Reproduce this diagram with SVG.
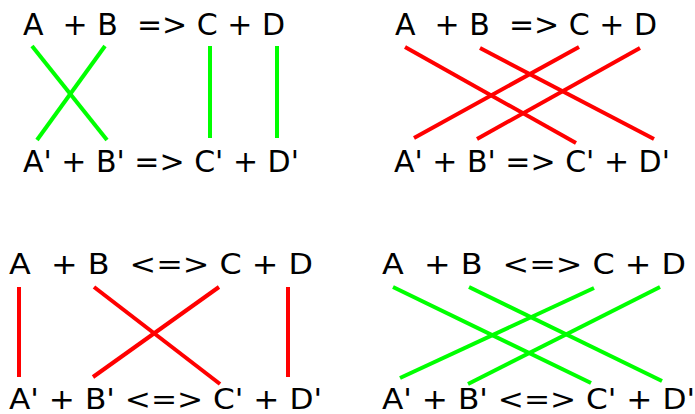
<svg xmlns="http://www.w3.org/2000/svg" width="695" height="414" viewBox="0 0 695 414">
<style>
  text { font-family: "DejaVu Sans", sans-serif; fill: #000; white-space: pre; }
  .t { font-size: 30px; }
  .b { font-size: 29px; }
  .g line { stroke: #00ff00; stroke-width: 4; }
  .r line { stroke: #ff0000; stroke-width: 4; }
</style>
<rect width="695" height="414" fill="#fff"/>
<g id="panel-tl">
  <text class="t" x="23" y="35">A  + B  =&gt; C + D</text>
  <text class="t" x="23" y="172">A' + B' =&gt; C' + D'</text>
</g>
<g id="panel-tr">
  <text class="t" x="395" y="35">A  + B  =&gt; C + D</text>
  <text class="t" x="394" y="172">A' + B' =&gt; C' + D'</text>
</g>
<g id="panel-bl">
  <text class="b" x="9" y="274" textLength="304" lengthAdjust="spacingAndGlyphs">A  + B  &lt;=&gt; C + D</text>
  <text class="b" x="9" y="409" textLength="313" lengthAdjust="spacingAndGlyphs">A' + B' &lt;=&gt; C' + D'</text>
</g>
<g id="panel-br">
  <text class="b" x="382" y="274" textLength="304" lengthAdjust="spacingAndGlyphs">A  + B  &lt;=&gt; C + D</text>
  <text class="b" x="382" y="409" textLength="313" lengthAdjust="spacingAndGlyphs">A' + B' &lt;=&gt; C' + D'</text>
</g>
<g id="connectors">
  <g class="g">
    <line x1="32" y1="46" x2="107" y2="140"/>
    <line x1="105" y1="46" x2="37" y2="140"/>
    <line x1="210" y1="46" x2="210" y2="138"/>
    <line x1="277" y1="46" x2="277" y2="138"/>
  </g>
  <g class="r">
    <line x1="405" y1="47" x2="576" y2="143"/>
    <line x1="480" y1="48" x2="654" y2="139"/>
    <line x1="579" y1="47" x2="414" y2="138"/>
    <line x1="640" y1="48" x2="477" y2="139"/>
  </g>
  <g class="r">
    <line x1="19" y1="287" x2="19" y2="377"/>
    <line x1="94" y1="287" x2="220" y2="384"/>
    <line x1="219" y1="287" x2="93" y2="377"/>
    <line x1="288" y1="287" x2="288" y2="377"/>
  </g>
  <g class="g">
    <line x1="393" y1="287" x2="591" y2="383"/>
    <line x1="469" y1="287" x2="662" y2="381"/>
    <line x1="594" y1="288" x2="400" y2="378"/>
    <line x1="660" y1="287" x2="468" y2="384"/>
  </g>
</g>
</svg>
